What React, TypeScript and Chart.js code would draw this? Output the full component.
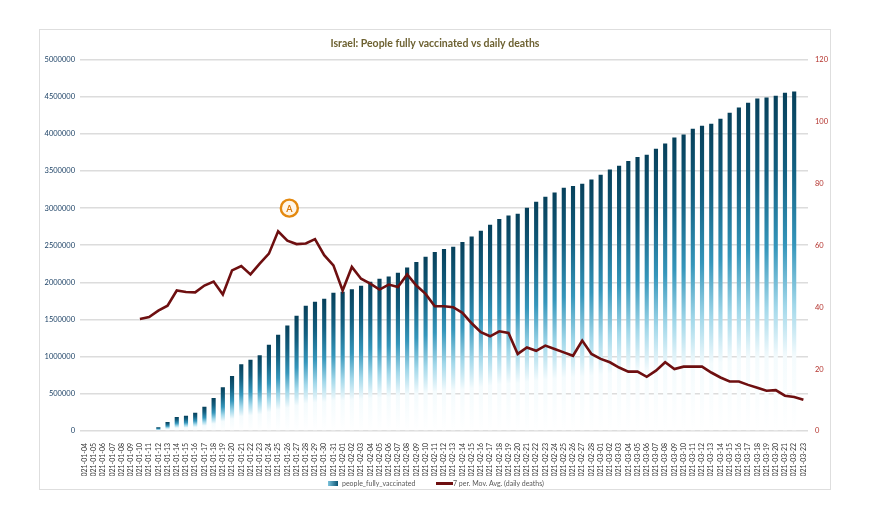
import React, { useEffect, useRef } from 'react';
import { Chart, registerables } from 'chart.js';

Chart.register(...registerables);

const titleText = 'Israel: People fully vaccinated vs daily deaths';
const barLabel = 'people_fully_vaccinated';
const lineLabel = '7 per. Mov. Avg. (daily deaths)';

const dates: string[] = [
  '2021-01-04', '2021-01-05', '2021-01-06', '2021-01-07', '2021-01-08', '2021-01-09', '2021-01-10',
  '2021-01-11', '2021-01-12', '2021-01-13', '2021-01-14', '2021-01-15', '2021-01-16', '2021-01-17',
  '2021-01-18', '2021-01-19', '2021-01-20', '2021-01-21', '2021-01-22', '2021-01-23', '2021-01-24',
  '2021-01-25', '2021-01-26', '2021-01-27', '2021-01-28', '2021-01-29', '2021-01-30', '2021-01-31',
  '2021-02-01', '2021-02-02', '2021-02-03', '2021-02-04', '2021-02-05', '2021-02-06', '2021-02-07',
  '2021-02-08', '2021-02-09', '2021-02-10', '2021-02-11', '2021-02-12', '2021-02-13', '2021-02-14',
  '2021-02-15', '2021-02-16', '2021-02-17', '2021-02-18', '2021-02-19', '2021-02-20', '2021-02-21',
  '2021-02-22', '2021-02-23', '2021-02-24', '2021-02-25', '2021-02-26', '2021-02-27', '2021-02-28',
  '2021-03-01', '2021-03-02', '2021-03-03', '2021-03-04', '2021-03-05', '2021-03-06', '2021-03-07',
  '2021-03-08', '2021-03-09', '2021-03-10', '2021-03-11', '2021-03-12', '2021-03-13', '2021-03-14',
  '2021-03-15', '2021-03-16', '2021-03-17', '2021-03-18', '2021-03-19', '2021-03-20', '2021-03-21',
  '2021-03-22', '2021-03-23',
];

const fullyVaccinated: (number | null)[] = [
  0, 0, 0, 0, 0, 0, 0,
  10000, 50000, 120000, 190000, 205000, 245000, 325000,
  445000, 590000, 740000, 900000, 960000, 1020000, 1160000,
  1295000, 1420000, 1550000, 1685000, 1740000, 1780000, 1860000,
  1875000, 1910000, 1955000, 2010000, 2050000, 2080000, 2130000,
  2200000, 2275000, 2345000, 2410000, 2450000, 2480000, 2545000,
  2620000, 2695000, 2775000, 2855000, 2900000, 2925000, 3005000,
  3085000, 3155000, 3210000, 3275000, 3300000, 3330000, 3385000,
  3450000, 3520000, 3570000, 3635000, 3690000, 3720000, 3800000,
  3870000, 3950000, 3990000, 4070000, 4110000, 4135000, 4205000,
  4285000, 4355000, 4420000, 4475000, 4490000, 4515000, 4555000,
  4570000, null,
];

const deathsAvg: (number | null)[] = [
  null, null, null, null, null, null, 36.2,
  36.8, 38.9, 40.5, 45.4, 44.9, 44.8, 47.0,
  48.3, 44.1, 51.9, 53.3, 50.6, 54.1, 57.3,
  64.5, 61.5, 60.4, 60.6, 62.0, 56.8, 53.5,
  45.4, 53.0, 49.2, 47.6, 45.7, 47.3, 46.5,
  50.6, 47.0, 44.3, 40.3, 40.3, 40.0, 38.2,
  34.8, 31.9, 30.6, 32.2, 31.7, 24.9, 27.0,
  25.9, 27.6, 26.5, 25.4, 24.3, 29.2, 24.9,
  23.3, 22.2, 20.5, 19.2, 19.2, 17.5, 19.5,
  22.2, 20.0, 20.8, 20.8, 20.8, 18.9, 17.3,
  16.0, 16.0, 14.9, 14.0, 13.0, 13.2, 11.4,
  11.0, 10.1,
];

const leftTicks = { min: 0, max: 5000000, step: 500000 };
const rightTicks = { min: 0, max: 120, step: 20 };

const annotationIndex = 22;
const annotationValue = 72;
const annotationText = 'A';

const FONT = 'Lato, "Open Sans", sans-serif';

function barGradient(ctx: any) {
  const chart = ctx.chart;
  const v = ctx.raw;
  if (!chart.chartArea || v == null || !chart.scales.y) return '#1c7ea3';
  const yTop = chart.scales.y.getPixelForValue(v);
  const yBase = chart.scales.y.getPixelForValue(0);
  if (yBase - yTop < 1) return '#0b4d68';
  const g = chart.ctx.createLinearGradient(0, yTop, 0, yBase);
  g.addColorStop(0, '#07405a');
  g.addColorStop(0.22, '#125f80');
  g.addColorStop(0.45, '#3596bb');
  g.addColorStop(0.63, '#a2d8ea');
  g.addColorStop(0.78, '#f4fbfd');
  g.addColorStop(1, '#ffffff');
  return g;
}

const annotationPlugin = {
  id: 'circleAnnotation',
  afterDatasetsDraw(chart: any) {
    const x = chart.scales.x.getPixelForValue(annotationIndex) + 2;
    const y = chart.scales.y1.getPixelForValue(annotationValue);
    const c = chart.ctx;
    c.save();
    c.beginPath();
    c.arc(x, y, 8.5, 0, Math.PI * 2);
    c.fillStyle = '#fff6e8';
    c.fill();
    c.lineWidth = 2.4;
    c.strokeStyle = '#e4890f';
    c.stroke();
    c.fillStyle = '#d9780a';
    c.font = `bold 9px ${FONT}`;
    c.textAlign = 'center';
    c.textBaseline = 'middle';
    c.fillText(annotationText, x, y + 0.5);
    c.restore();
  },
};

export default function App() {
  const canvasRef = useRef<HTMLCanvasElement | null>(null);

  useEffect(() => {
    if (!canvasRef.current) return;
    const chart = new Chart(canvasRef.current, {
      type: 'bar',
      data: {
        labels: dates,
        datasets: [
          {
            type: 'line',
            label: lineLabel,
            data: deathsAvg,
            yAxisID: 'y1',
            borderColor: '#6e0f10',
            borderWidth: 2.6,
            pointRadius: 0,
            tension: 0,
            order: 0,
          } as any,
          {
            type: 'bar',
            label: barLabel,
            data: fullyVaccinated,
            yAxisID: 'y',
            backgroundColor: barGradient,
            borderWidth: 0,
            barPercentage: 0.45,
            categoryPercentage: 1,
            order: 1,
          } as any,
        ],
      },
      options: {
        animation: false,
        responsive: true,
        maintainAspectRatio: false,
        layout: { padding: { left: 39, right: 49, top: 30, bottom: 35 } },
        plugins: {
          legend: { display: false },
          tooltip: { enabled: false },
          title: {
            display: true,
            text: titleText,
            color: '#6d6131',
            font: { size: 10.5, weight: 'bold', family: FONT },
            padding: { top: 7, bottom: 10 },
          },
        },
        scales: {
          x: {
            offset: true,
            grid: { display: false },
            border: { display: false },
            ticks: {
              autoSkip: false,
              minRotation: 90,
              maxRotation: 90,
              color: '#333333',
              font: { size: 7, family: FONT },
              padding: 4,
            },
            afterFit: (s: any) => { s.height = 45; },
          },
          y: {
            position: 'left',
            min: leftTicks.min,
            max: leftTicks.max,
            ticks: {
              stepSize: leftTicks.step,
              color: '#1d4266',
              font: { size: 7.5, family: FONT },
              padding: 5,
              callback: (v: any) => String(v),
            },
            grid: { color: '#dcdcdc', lineWidth: 1.6, drawTicks: false },
            border: { display: false },
            afterFit: (s: any) => { s.width = 41; },
          },
          y1: {
            position: 'right',
            min: rightTicks.min,
            max: rightTicks.max,
            ticks: {
              stepSize: rightTicks.step,
              color: '#b4322c',
              font: { size: 7.5, family: FONT },
              padding: 7,
            },
            grid: { display: false, drawTicks: false },
            border: { display: false },
            afterFit: (s: any) => { s.width = 23; },
          },
        },
      },
      plugins: [annotationPlugin],
    });
    return () => chart.destroy();
  }, []);

  return (
    <div style={{ position: 'absolute', left: 0, top: 0, width: 880, height: 511, background: '#ffffff', fontFamily: FONT }}>
      <div style={{ position: 'absolute', left: 39, top: 29, width: 792, height: 461, border: '1px solid #dedede', boxSizing: 'border-box' }} />
      <canvas ref={canvasRef} style={{ position: 'absolute', left: 0, top: 0, width: 880, height: 511 }} />
      <div style={{ position: 'absolute', left: 328, top: 481, width: 10, height: 5, background: 'linear-gradient(to right, #7cc3dc, #0b5574)' }} />
      <div style={{ position: 'absolute', left: 342, top: 478, fontSize: 7, color: '#595959', lineHeight: '10px', whiteSpace: 'nowrap' }}>{barLabel}</div>
      <div style={{ position: 'absolute', left: 436, top: 482, width: 17, height: 3, background: '#6e0f10' }} />
      <div style={{ position: 'absolute', left: 453, top: 478, fontSize: 7, color: '#595959', lineHeight: '10px', whiteSpace: 'nowrap' }}>{lineLabel}</div>
    </div>
  );
}
